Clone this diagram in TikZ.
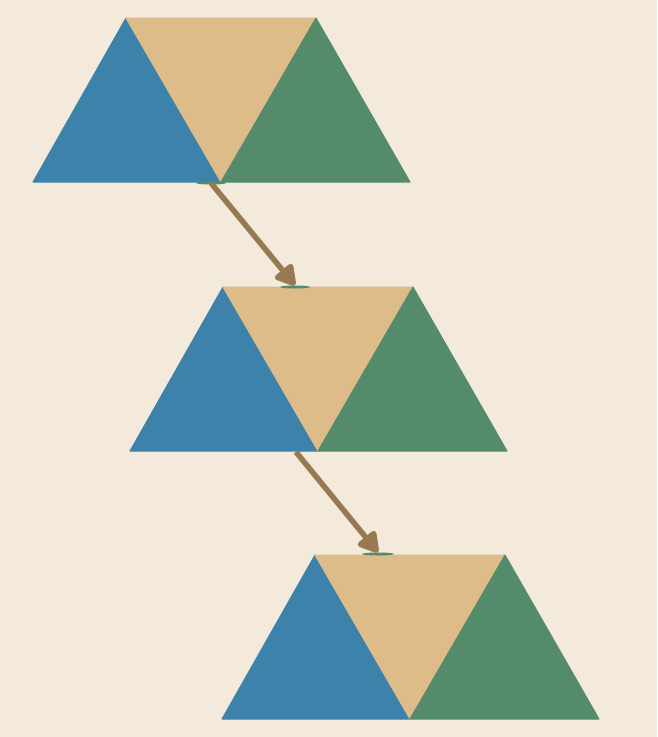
\documentclass[tikz,border=0pt]{standalone}
\usepackage{xcolor}
\usepackage{tikz}
\usetikzlibrary{calc, shapes.geometric, positioning, arrows.meta}

\definecolor{bgbeige}{HTML}{F3EADC}
\definecolor{triblue}{HTML}{3D82AB}
\definecolor{tritan}{HTML}{DDBC89}
\definecolor{trigreen}{HTML}{548B6A}
\definecolor{arrowbrown}{HTML}{977A52}

\begin{document}
\begin{tikzpicture}[x=1pt, y=-1pt,
    tri/.style={line join=round, line width=1pt},
    joint/.style={ellipse, fill=trigreen, inner sep=0pt, minimum width=30pt, minimum height=3pt},
    link/.style={-{Triangle[length=23pt, width=25pt, round]}, line width=5.5pt, color=arrowbrown}]

    % =================================================================
    % 1. BACKGROUND
    % =================================================================
    \fill[bgbeige] (0,0) rectangle (657,737);
    \useasboundingbox (0,0) rectangle (657,737);

    % =================================================================
    % 2. PANEL OF THREE TRIANGLES
    % =================================================================
    % #1: apex of the blue triangle (top left corner of the tan one)
    \newcommand{\tripanel}[1]{
        \begin{scope}[shift={#1}]
            % Blue triangle (pointing up)
            \draw[tri, fill=triblue, draw=triblue] (-93,164) -- (0,0) -- (95,164) -- cycle;
            % Tan triangle (pointing down)
            \draw[tri, fill=tritan, draw=tritan] (0,0) -- (190,0) -- (95,164) -- cycle;
            % Green triangle (pointing up)
            \draw[tri, fill=trigreen, draw=trigreen] (95,164) -- (190,0) -- (284,164) -- cycle;
        \end{scope}
    }

    \tripanel{(126,18)}
    \tripanel{(223,287)}
    \tripanel{(315,555)}

    % =================================================================
    % 3. JOINTS AND LINKS
    % =================================================================
    \node[joint] (outA) at (211,183) {};
    \node[joint] (inB) at (295,287) {};
    \coordinate (outB) at (296,452);
    \node[joint, minimum width=32pt] (inC) at (378,554) {};

    \draw[link] (outA.center) -- (inB.north);
    \draw[link] (outB) -- (inC.north);

\end{tikzpicture}
\end{document}
